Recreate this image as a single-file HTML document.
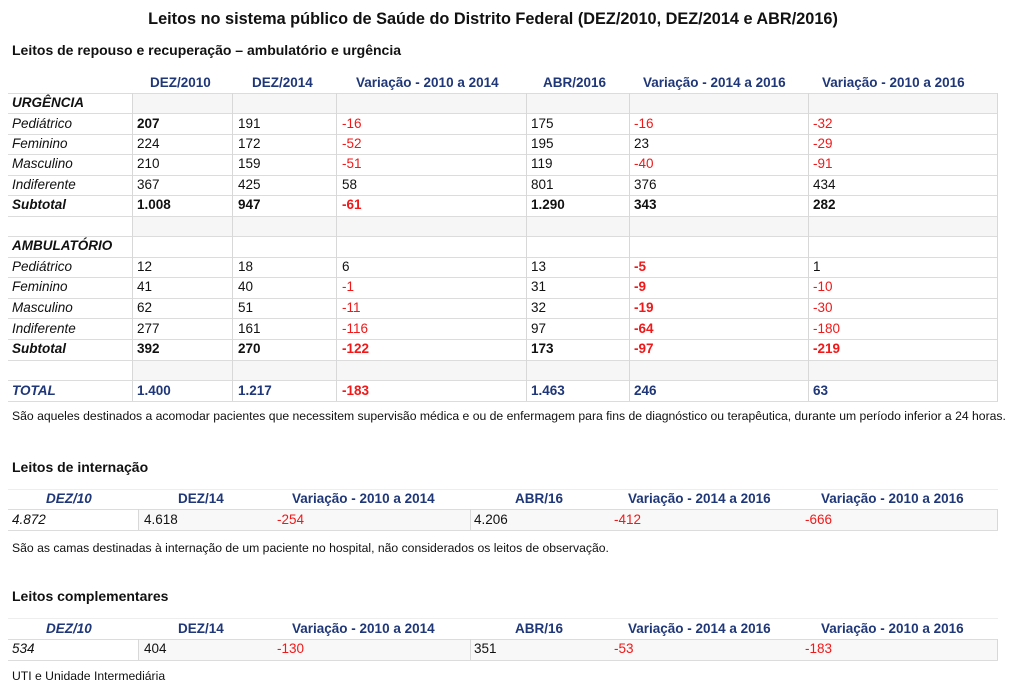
<!DOCTYPE html>
<html><head><meta charset="utf-8"><style>
body{margin:0;width:1024px;height:687px;background:#fff;position:relative;overflow:hidden;font-family:"Liberation Sans",sans-serif;color:#111}
.t{position:absolute;white-space:nowrap;font-size:13.5px;line-height:18px}
.h{color:#1f3778;font-weight:bold}
.r{color:#f01818}
.b{font-weight:bold}
.i{font-style:italic}
.hl{position:absolute;height:1px;background:#dcdcdc}
.vl{position:absolute;width:1px;background:#d8d8d8}
.bg{position:absolute;background:#f6f6f6}
.fn{font-size:12.2px}
</style></head><body>
<div class="t b" style="left:0;width:986px;text-align:center;top:8px;font-size:16.3px;line-height:22px">Leitos no sistema público de Saúde do Distrito Federal (DEZ/2010, DEZ/2014 e ABR/2016)</div>
<div class="t b" style="left:12px;top:41px;font-size:14px">Leitos de repouso e recuperação – ambulatório e urgência</div>

<div class="bg" style="left:132px;top:93px;width:866px;height:20px"></div>
<div class="bg" style="left:132px;top:216px;width:866px;height:20px"></div>
<div class="bg" style="left:132px;top:360px;width:866px;height:20px"></div>
<div class="hl" style="left:8px;top:93px;width:990px"></div>
<div class="hl" style="left:8px;top:113px;width:990px"></div>
<div class="hl" style="left:8px;top:134px;width:990px"></div>
<div class="hl" style="left:8px;top:154px;width:990px"></div>
<div class="hl" style="left:8px;top:175px;width:990px"></div>
<div class="hl" style="left:8px;top:195px;width:990px"></div>
<div class="hl" style="left:8px;top:216px;width:990px"></div>
<div class="hl" style="left:8px;top:236px;width:990px"></div>
<div class="hl" style="left:8px;top:257px;width:990px"></div>
<div class="hl" style="left:8px;top:277px;width:990px"></div>
<div class="hl" style="left:8px;top:298px;width:990px"></div>
<div class="hl" style="left:8px;top:318px;width:990px"></div>
<div class="hl" style="left:8px;top:339px;width:990px"></div>
<div class="hl" style="left:8px;top:360px;width:990px"></div>
<div class="hl" style="left:8px;top:380px;width:990px"></div>
<div class="hl" style="left:8px;top:401px;width:990px"></div>
<div class="vl" style="left:132px;top:93px;height:308px"></div>
<div class="vl" style="left:232px;top:93px;height:308px"></div>
<div class="vl" style="left:336px;top:93px;height:308px"></div>
<div class="vl" style="left:526px;top:93px;height:308px"></div>
<div class="vl" style="left:629px;top:93px;height:308px"></div>
<div class="vl" style="left:808px;top:93px;height:308px"></div>
<div class="vl" style="left:997px;top:93px;height:308px"></div>

<div class="t h" style="left:150px;top:74px">DEZ/2010</div>
<div class="t h" style="left:252px;top:74px">DEZ/2014</div>
<div class="t h" style="left:356px;top:74px">Variação - 2010 a 2014</div>
<div class="t h" style="left:543px;top:74px">ABR/2016</div>
<div class="t h" style="left:643px;top:74px">Variação - 2014 a 2016</div>
<div class="t h" style="left:822px;top:74px">Variação - 2010 a 2016</div>

<div class="t b i" style="left:12px;top:94px">URGÊNCIA</div>
<div class="t i" style="left:12px;top:115px">Pediátrico</div>
<div class="t i" style="left:12px;top:135px">Feminino</div>
<div class="t i" style="left:12px;top:155px">Masculino</div>
<div class="t i" style="left:12px;top:176px">Indiferente</div>
<div class="t b i" style="left:12px;top:196px">Subtotal</div>
<div class="t b i" style="left:12px;top:237px">AMBULATÓRIO</div>
<div class="t i" style="left:12px;top:258px">Pediátrico</div>
<div class="t i" style="left:12px;top:278px">Feminino</div>
<div class="t i" style="left:12px;top:299px">Masculino</div>
<div class="t i" style="left:12px;top:320px">Indiferente</div>
<div class="t b i" style="left:12px;top:340px">Subtotal</div>
<div class="t b i h" style="left:12px;top:382px">TOTAL</div>

<div class="t b" style="left:137px;top:115px">207</div><div class="t" style="left:238px;top:115px">191</div><div class="t r" style="left:342px;top:115px">-16</div><div class="t" style="left:531px;top:115px">175</div><div class="t r" style="left:634px;top:115px">-16</div><div class="t r" style="left:813px;top:115px">-32</div>
<div class="t" style="left:137px;top:135px">224</div><div class="t" style="left:238px;top:135px">172</div><div class="t r" style="left:342px;top:135px">-52</div><div class="t" style="left:531px;top:135px">195</div><div class="t" style="left:634px;top:135px">23</div><div class="t r" style="left:813px;top:135px">-29</div>
<div class="t" style="left:137px;top:155px">210</div><div class="t" style="left:238px;top:155px">159</div><div class="t r" style="left:342px;top:155px">-51</div><div class="t" style="left:531px;top:155px">119</div><div class="t r" style="left:634px;top:155px">-40</div><div class="t r" style="left:813px;top:155px">-91</div>
<div class="t" style="left:137px;top:176px">367</div><div class="t" style="left:238px;top:176px">425</div><div class="t" style="left:342px;top:176px">58</div><div class="t" style="left:531px;top:176px">801</div><div class="t" style="left:634px;top:176px">376</div><div class="t" style="left:813px;top:176px">434</div>
<div class="t b" style="left:137px;top:196px">1.008</div><div class="t b" style="left:238px;top:196px">947</div><div class="t b r" style="left:342px;top:196px">-61</div><div class="t b" style="left:531px;top:196px">1.290</div><div class="t b" style="left:634px;top:196px">343</div><div class="t b" style="left:813px;top:196px">282</div>
<div class="t" style="left:137px;top:258px">12</div><div class="t" style="left:238px;top:258px">18</div><div class="t" style="left:342px;top:258px">6</div><div class="t" style="left:531px;top:258px">13</div><div class="t b r" style="left:634px;top:258px">-5</div><div class="t" style="left:813px;top:258px">1</div>
<div class="t" style="left:137px;top:278px">41</div><div class="t" style="left:238px;top:278px">40</div><div class="t r" style="left:342px;top:278px">-1</div><div class="t" style="left:531px;top:278px">31</div><div class="t b r" style="left:634px;top:278px">-9</div><div class="t r" style="left:813px;top:278px">-10</div>
<div class="t" style="left:137px;top:299px">62</div><div class="t" style="left:238px;top:299px">51</div><div class="t r" style="left:342px;top:299px">-11</div><div class="t" style="left:531px;top:299px">32</div><div class="t b r" style="left:634px;top:299px">-19</div><div class="t r" style="left:813px;top:299px">-30</div>
<div class="t" style="left:137px;top:320px">277</div><div class="t" style="left:238px;top:320px">161</div><div class="t r" style="left:342px;top:320px">-116</div><div class="t" style="left:531px;top:320px">97</div><div class="t b r" style="left:634px;top:320px">-64</div><div class="t r" style="left:813px;top:320px">-180</div>
<div class="t b" style="left:137px;top:340px">392</div><div class="t b" style="left:238px;top:340px">270</div><div class="t b r" style="left:342px;top:340px">-122</div><div class="t b" style="left:531px;top:340px">173</div><div class="t b r" style="left:634px;top:340px">-97</div><div class="t b r" style="left:813px;top:340px">-219</div>
<div class="t b h" style="left:137px;top:382px">1.400</div><div class="t b h" style="left:238px;top:382px">1.217</div><div class="t b r" style="left:342px;top:382px">-183</div><div class="t b h" style="left:531px;top:382px">1.463</div><div class="t b h" style="left:634px;top:382px">246</div><div class="t b h" style="left:813px;top:382px">63</div>

<div class="t fn" style="left:12px;top:407px">São aqueles destinados a acomodar pacientes que necessitem supervisão médica e ou de enfermagem para fins de diagnóstico ou terapêutica, durante um período inferior a 24 horas.</div>

<div class="t b" style="left:12px;top:458px;font-size:14px">Leitos de internação</div>
<div class="hl" style="left:8px;top:489px;width:990px;background:#eee"></div>
<div class="bg" style="left:138px;top:509px;width:860px;height:21px;background:#f8f8f8"></div>
<div class="hl" style="left:8px;top:509px;width:990px"></div>
<div class="hl" style="left:8px;top:530px;width:990px"></div>
<div class="vl" style="left:138px;top:509px;height:21px"></div>
<div class="vl" style="left:470px;top:509px;height:21px"></div>
<div class="vl" style="left:997px;top:509px;height:21px"></div>
<div class="t h i" style="left:46px;top:490px">DEZ/10</div>
<div class="t h" style="left:178px;top:490px">DEZ/14</div>
<div class="t h" style="left:292px;top:490px">Variação - 2010 a 2014</div>
<div class="t h" style="left:515px;top:490px">ABR/16</div>
<div class="t h" style="left:628px;top:490px">Variação - 2014 a 2016</div>
<div class="t h" style="left:821px;top:490px">Variação - 2010 a 2016</div>
<div class="t i" style="left:12px;top:511px">4.872</div>
<div class="t" style="left:144px;top:511px">4.618</div>
<div class="t r" style="left:277px;top:511px">-254</div>
<div class="t" style="left:474px;top:511px">4.206</div>
<div class="t r" style="left:614px;top:511px">-412</div>
<div class="t r" style="left:805px;top:511px">-666</div>
<div class="t fn" style="left:12px;top:539px">São as camas destinadas à internação de um paciente no hospital, não considerados os leitos de observação.</div>

<div class="t b" style="left:12px;top:587px;font-size:14px">Leitos complementares</div>
<div class="hl" style="left:8px;top:618px;width:990px;background:#eee"></div>
<div class="bg" style="left:138px;top:639px;width:860px;height:21px;background:#f8f8f8"></div>
<div class="hl" style="left:8px;top:639px;width:990px"></div>
<div class="hl" style="left:8px;top:660px;width:990px"></div>
<div class="vl" style="left:138px;top:639px;height:21px"></div>
<div class="vl" style="left:470px;top:639px;height:21px"></div>
<div class="vl" style="left:997px;top:639px;height:21px"></div>
<div class="t h i" style="left:46px;top:620px">DEZ/10</div>
<div class="t h" style="left:178px;top:620px">DEZ/14</div>
<div class="t h" style="left:292px;top:620px">Variação - 2010 a 2014</div>
<div class="t h" style="left:515px;top:620px">ABR/16</div>
<div class="t h" style="left:628px;top:620px">Variação - 2014 a 2016</div>
<div class="t h" style="left:821px;top:620px">Variação - 2010 a 2016</div>
<div class="t i" style="left:12px;top:640px">534</div>
<div class="t" style="left:144px;top:640px">404</div>
<div class="t r" style="left:277px;top:640px">-130</div>
<div class="t" style="left:474px;top:640px">351</div>
<div class="t r" style="left:614px;top:640px">-53</div>
<div class="t r" style="left:805px;top:640px">-183</div>
<div class="t fn" style="left:12px;top:667px">UTI e Unidade Intermediária</div>
</body></html>
